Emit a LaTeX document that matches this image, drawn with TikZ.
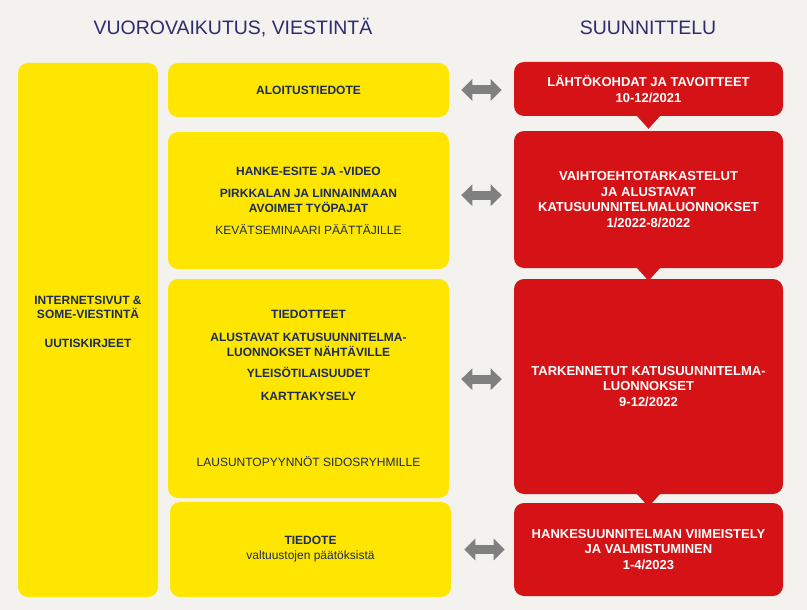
\documentclass[tikz,border=0pt]{standalone}
\usepackage{fontspec}
\setmainfont{Liberation Sans}
\usetikzlibrary{arrows.meta}
\definecolor{VKYellow}{HTML}{FFE600}
\definecolor{VKRed}{HTML}{D51317}
\definecolor{VKNavy}{HTML}{1C2B5C}
\definecolor{VKTitle}{HTML}{2C2C6E}
\definecolor{VKGray}{HTML}{808080}
\definecolor{VKBack}{HTML}{F3F2EE}

\tikzset{
  ybox/.style={fill=VKYellow, rounded corners=7.5pt, align=center, text=VKNavy,
    inner sep=0pt, minimum width=210.75pt, font=\fontsize{9}{11.25}\selectfont\bfseries},
  rbox/.style={fill=VKRed, rounded corners=7.5pt, align=center, text=white,
    inner sep=0pt, minimum width=201.75pt, font=\fontsize{9.75}{11.6}\selectfont\bfseries},
  head/.style={text=VKTitle, font=\fontsize{14.6}{17}\selectfont},
  link/.style={draw=VKGray, line width=6.75pt,
    arrows={Triangle[width=15.75pt,length=8.25pt]-Triangle[width=15.75pt,length=8.25pt]},
    shorten <=9pt, shorten >=9pt},
}

\begin{document}
\begin{tikzpicture}[x=0.75pt,y=-0.75pt]
\path[use as bounding box] (0,0) rectangle (807,610);
\fill[VKBack] (0,0) rectangle (807,610);
% column titles
\node[head] (ttlleft) at (233,28) {VUOROVAIKUTUS, VIESTINTÄ};
\node[head] (ttlright) at (648,28) {SUUNNITTELU};
% interaction column
\node[ybox, minimum width=105pt, minimum height=400.5pt] (web) at (88,330) {};
\node[align=center, text=VKNavy, font=\fontsize{9}{10.5}\selectfont\bfseries] (webtxt)
  at ([yshift=6pt]web.center) {INTERNETSIVUT \&\\SOME-VIESTINTÄ\\[11.25pt]UUTISKIRJEET};
\node[ybox, minimum height=40.5pt] (alo) at (308.5,90) {ALOITUSTIEDOTE};
\node[ybox, minimum height=102.75pt] (hanke) at (308.5,200.5)
  {HANKE-ESITE JA -VIDEO\\[5.25pt]PIRKKALAN JA LINNAINMAAN\\AVOIMET TYÖPAJAT\\[5.25pt]{\mdseries KEVÄTSEMINAARI PÄÄTTÄJILLE}};
\node[ybox, minimum height=164.25pt] (tied) at (308.5,388.5)
  {TIEDOTTEET\\[6pt]ALUSTAVAT KATUSUUNNITELMA-\\LUONNOKSET NÄHTÄVILLE\\[4.5pt]YLEISÖTILAISUUDET\\[6pt]KARTTAKYSELY\\[38.25pt]{\mdseries LAUSUNTOPYYNNÖT SIDOSRYHMILLE}};
\node[ybox, minimum height=71.25pt] (paat) at (310.5,549.5)
  {TIEDOTE\\{\mdseries valtuustojen päätöksistä}};
% planning column
\node[rbox, minimum height=40.5pt] (r1) at (648.5,89)
  {LÄHTÖKOHDAT JA TAVOITTEET\\10-12/2021};
\node[rbox, minimum height=102.75pt] (r2) at (648.5,199.5)
  {VAIHTOEHTOTARKASTELUT\\JA ALUSTAVAT\\KATUSUUNNITELMALUONNOKSET\\1/2022-8/2022};
\node[rbox, minimum height=161.25pt] (r3) at (648.5,386.5)
  {TARKENNETUT KATUSUUNNITELMA-\\LUONNOKSET\\9-12/2022};
\node[rbox, minimum height=69.75pt] (r4) at (648.5,549.5)
  {HANKESUUNNITELMAN VIIMEISTELY\\JA VALMISTUMINEN\\1-4/2023};
% pointers between phases
\foreach \rb in {r1,r2,r3}
  \fill[VKRed] ([xshift=-9.4pt,yshift=1pt]\rb.south) -- ([xshift=9.4pt,yshift=1pt]\rb.south)
    -- ([yshift=-9.4pt]\rb.south) -- cycle;
% two-way links
\draw[link] (alo.east) -- (alo.east -| r1.west);
\draw[link] ([yshift=4pt]hanke.east) -- ([yshift=4pt]hanke.east -| r2.west);
\draw[link] ([yshift=7pt]tied.east) -- ([yshift=7pt]tied.east -| r3.west);
\draw[link, shorten <=9.75pt, shorten >=6.75pt] (paat.east) -- (paat.east -| r4.west);
\end{tikzpicture}
\end{document}
